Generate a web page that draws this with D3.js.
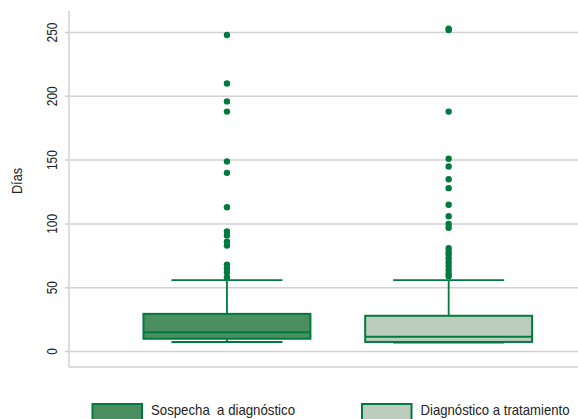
<!DOCTYPE html>
<html><head><meta charset="utf-8">
<script src="https://cdn.jsdelivr.net/npm/d3@7"></script>
<style>
body{margin:0;background:#fff;}
text{font-family:"Liberation Sans Narrow","Liberation Sans",sans-serif;fill:#222;}
</style></head>
<body><svg id="c" width="578" height="419"></svg>
<script>
const categories = ["Sospecha  a diagnóstico", "Diagnóstico a tratamiento"];
// [whiskerLow, q1, median, q3, whiskerHigh]
const boxStats = [
  [7.5, 10, 15, 29.5, 56],
  [7, 7.5, 11.5, 28, 56]
];
const outliers1 = [248, 210, 196, 188, 149, 140, 113, 94, 91, 86, 83, 68, 65, 62, 58];
const outliers2 = [253, 252, 188, 151, 145, 135, 128, 115, 106, 100, 97, 81, 78, 76, 73, 70, 67, 64, 61, 59];
const outliers = [outliers1, outliers2];
const yTicks = [0, 50, 100, 150, 200, 250];
const fills = ["#4b8f61", "#bccdbd"];
const stroke = "#007a3e";

(function () {
const svg = d3.select("#c");
const y = d3.scaleLinear().domain([0, 250]).range([351.5, 32.5]);
const x = d3.scaleBand().domain(categories).range([88.7, 586.9]).padding(0.247);
const pl = 69, pr = 578, pt = 11, pb = 367;

svg.append("g").selectAll("line").data(yTicks).join("line")
  .attr("x1", pl - 4).attr("x2", pr)
  .attr("y1", d => y(d)).attr("y2", d => y(d))
  .attr("stroke", "#d2d2d2").attr("stroke-width", 1.5);
svg.append("line").attr("x1", pl).attr("x2", pl).attr("y1", pt).attr("y2", pb)
  .attr("stroke", "#d2d2d2").attr("stroke-width", 1.5);
svg.append("line").attr("x1", pl).attr("x2", pr).attr("y1", pb).attr("y2", pb)
  .attr("stroke", "#d2d2d2").attr("stroke-width", 1.5);
svg.append("g").selectAll("text").data(yTicks).join("text")
  .attr("transform", d => `translate(57,${y(d)}) rotate(-90) scale(0.82,1)`)
  .attr("text-anchor", "middle").attr("font-size", 14.5)
  .text(d => d);
svg.append("text").attr("transform", "translate(22,181) rotate(-90) scale(0.85,1)")
  .attr("text-anchor", "middle").attr("font-size", 15).text("Días");

const g = svg.append("g");
boxStats.forEach((s, i) => {
  const c = categories[i];
  const x0 = x(c), bw = x.bandwidth(), cx = x0 + bw / 2, cap = bw * 0.665;
  g.append("line").attr("x1", cx).attr("x2", cx).attr("y1", y(s[3])).attr("y2", y(s[4]))
    .attr("stroke", stroke).attr("stroke-width", 1.8);
  g.append("line").attr("x1", cx).attr("x2", cx).attr("y1", y(s[0])).attr("y2", y(s[1]))
    .attr("stroke", stroke).attr("stroke-width", 1.8);
  g.append("line").attr("x1", cx - cap / 2).attr("x2", cx + cap / 2).attr("y1", y(s[4])).attr("y2", y(s[4]))
    .attr("stroke", stroke).attr("stroke-width", 1.8);
  g.append("line").attr("x1", cx - cap / 2).attr("x2", cx + cap / 2).attr("y1", y(s[0])).attr("y2", y(s[0]))
    .attr("stroke", stroke).attr("stroke-width", 2);
  g.append("rect").attr("x", x0).attr("width", bw).attr("y", y(s[3])).attr("height", y(s[1]) - y(s[3]))
    .attr("fill", fills[i]).attr("stroke", stroke).attr("stroke-width", 2);
  g.append("line").attr("x1", x0).attr("x2", x0 + bw).attr("y1", y(s[2])).attr("y2", y(s[2]))
    .attr("stroke", stroke).attr("stroke-width", 2);
  g.append("g").selectAll("circle").data(outliers[i]).join("circle")
    .attr("cx", cx).attr("cy", d => y(d)).attr("r", 3.2).attr("fill", stroke);
});

const legX = [92.5, 362];
const legW = [144, 149];
categories.forEach((c, i) => {
  svg.append("rect").attr("x", legX[i]).attr("y", 404).attr("width", 49.5).attr("height", 16)
    .attr("fill", fills[i]).attr("stroke", stroke).attr("stroke-width", 2);
  svg.append("text").attr("x", legX[i] + 58.5).attr("y", 415)
    .style("white-space", "pre")
    .attr("textLength", legW[i]).attr("lengthAdjust", "spacingAndGlyphs")
    .attr("font-size", 15).text(c);
});
})();
</script></body></html>
